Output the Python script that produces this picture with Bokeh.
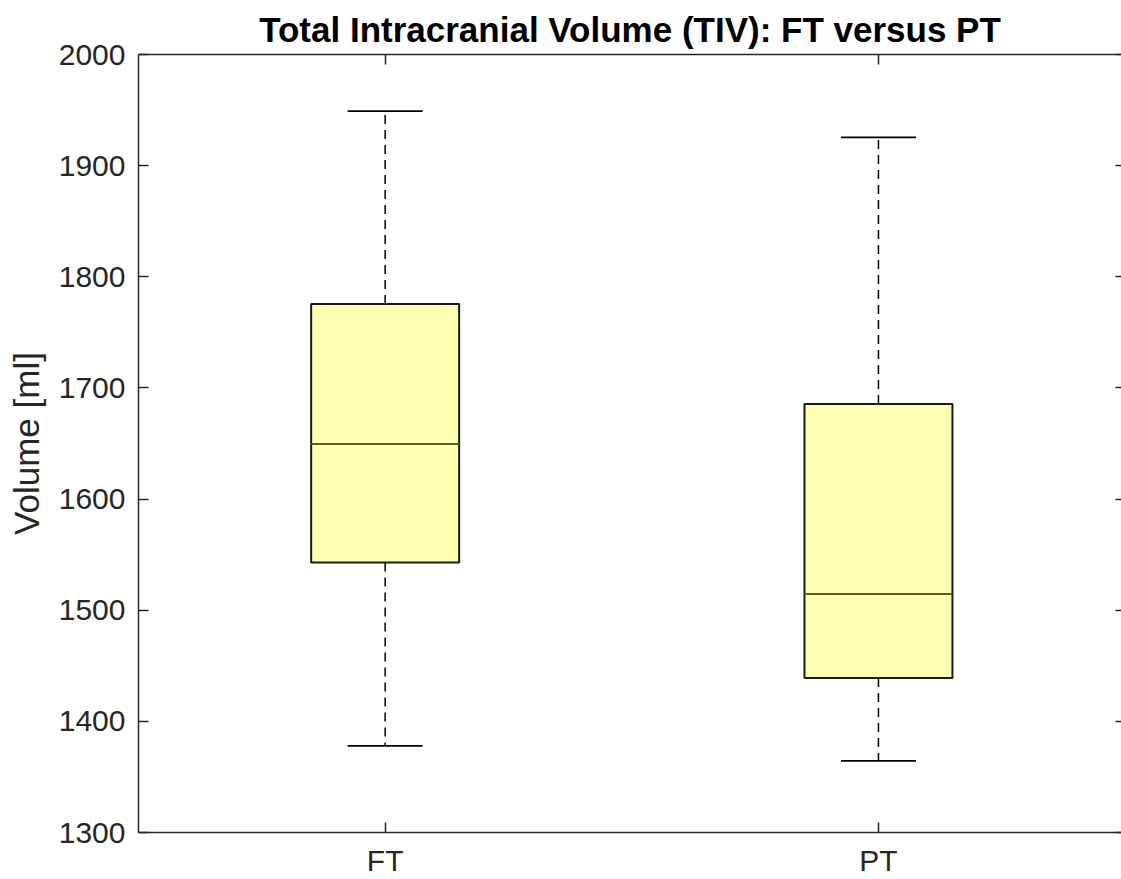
from bokeh.plotting import figure
from bokeh.models import Range1d, LinearAxis, FixedTicker, ColumnDataSource
from bokeh.embed import file_html
from bokeh.resources import INLINE

categories = ["FT", "PT"]
lower_whisker = [1378, 1364.5]
q1 = [1543, 1439]
median = [1649.5, 1514.5]
q3 = [1775.5, 1685.5]
upper_whisker = [1949, 1925.5]
y_ticks = [1300, 1400, 1500, 1600, 1700, 1800, 1900, 2000]

pos = [i + 1 for i in range(len(categories))]
box_w = 0.3
cap_w = 0.152

src = ColumnDataSource(dict(
    x=pos,
    xl=[p - box_w / 2 for p in pos], xr=[p + box_w / 2 for p in pos],
    cl=[p - cap_w / 2 for p in pos], cr=[p + cap_w / 2 for p in pos],
    lw=lower_whisker, q1=q1, med=median, q3=q3, uw=upper_whisker,
))

AX = "#262626"
FONT = "Liberation Sans"

p = figure(width=1121, height=879, output_backend="svg", toolbar_location=None,
           x_range=Range1d(0.5, 2.4927), y_range=Range1d(1300, 2000),
           min_border_left=138, min_border_right=0, min_border_top=54, min_border_bottom=47,
           title="Total Intracranial Volume (TIV): FT versus PT")
p.outline_line_color = None
p.grid.visible = False
p.background_fill_color = "white"
p.border_fill_color = "white"

p.title.text_font = FONT
p.title.text_font_size = "35px"
p.title.text_font_style = "bold"
p.title.text_color = "black"
p.title.align = "center"
p.title.standoff = 12

# whiskers
p.segment(x0="x", y0="q3", x1="x", y1="uw", source=src, line_color="black",
          line_width=1.5, line_dash="9 6")
p.segment(x0="x", y0="q1", x1="x", y1="lw", source=src, line_color="black",
          line_width=1.5, line_dash="9 6")
p.segment(x0="cl", y0="uw", x1="cr", y1="uw", source=src, line_color="black", line_width=1.8)
p.segment(x0="cl", y0="lw", x1="cr", y1="lw", source=src, line_color="black", line_width=1.8)
# boxes
p.quad(left="xl", right="xr", bottom="q1", top="q3", source=src,
       fill_color="#FFFFB2", line_color="#1a1a1a", line_width=2)
p.segment(x0="xl", y0="med", x1="xr", y1="med", source=src, line_color="#5c5c24", line_width=2)

def style(ax, ticks, labels=True):
    ax.axis_line_color = AX
    ax.axis_line_width = 1.5
    ax.major_tick_line_color = AX
    ax.major_tick_line_width = 1.5
    ax.major_tick_in = 10
    ax.major_tick_out = 0
    ax.minor_tick_line_color = None
    ax.major_label_text_font = FONT
    ax.major_label_text_color = AX
    ax.major_label_text_font_size = "30px"
    if not labels:
        ax.major_label_standoff = 0
        ax.major_label_overrides = {t: "" for t in ticks}

xax = p.xaxis[0]
xax.ticker = FixedTicker(ticks=pos)
style(xax, pos)
xax.major_label_overrides = {pp: c for pp, c in zip(pos, categories)}
xax.major_label_standoff = 11

yax = p.yaxis[0]
yax.ticker = FixedTicker(ticks=y_ticks)
style(yax, y_ticks)
yax.major_label_standoff = 13
yax.axis_label = "Volume [ml]"
yax.axis_label_text_font = FONT
yax.axis_label_text_font_size = "35px"
yax.axis_label_text_font_style = "normal"
yax.axis_label_text_color = AX
yax.axis_label_standoff = 10

top = LinearAxis(ticker=FixedTicker(ticks=pos))
style(top, pos, labels=False)
p.add_layout(top, "above")

right = LinearAxis(ticker=FixedTicker(ticks=y_ticks))
style(right, y_ticks, labels=False)
right.axis_line_color = None
right.major_tick_in = 6
p.add_layout(right, "right")

open("out.html", "w").write(file_html(p, INLINE))
